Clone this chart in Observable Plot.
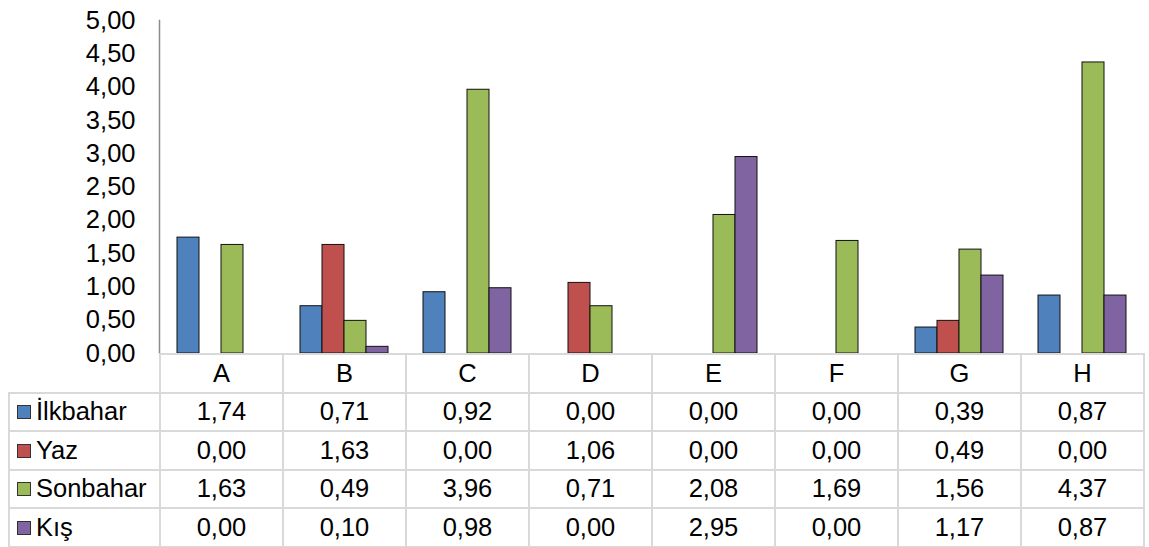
<!DOCTYPE html>
<html>
<head>
<meta charset="utf-8">
<script src="https://cdn.jsdelivr.net/npm/d3@7"></script>
<script src="https://cdn.jsdelivr.net/npm/@observablehq/plot@0.6"></script>
<style>
  html, body { margin: 0; padding: 0; background: #fff; }
  #wrap { position: relative; width: 1149px; height: 547px; overflow: hidden;
          font-family: "Liberation Sans", Arial, sans-serif; }
  #chart svg { display: block; }
  table.dt { position: absolute; left: 8px; top: 353px; width: 1135px;
             border-collapse: collapse; table-layout: fixed;
             font-family: "Liberation Sans", Arial, sans-serif; font-size: 25.5px; color: #000; }
  table.dt td { border: 2px solid #d9d9d9; height: 36.5px; padding: 0; text-align: center;
                line-height: 1; white-space: nowrap; }
  table.dt td.corner { border: none; }
  table.dt td.name { text-align: left; padding-left: 7px; }
  .sw { display: inline-block; width: 12px; height: 12px; border: 1px solid #333;
        margin-right: 5px; vertical-align: 1px; }
</style>
</head>
<body>
<div id="wrap">
  <div id="chart"></div>
  <table class="dt" id="tbl"></table>
</div>
<script>
// Categories, seasons and the values of each season per category
const categories = ["A", "B", "C", "D", "E", "F", "G", "H"];
const seasons = ["İlkbahar", "Yaz", "Sonbahar", "Kış"];
const ilkbahar = [1.74, 0.71, 0.92, 0.00, 0.00, 0.00, 0.39, 0.87];
const yaz      = [0.00, 1.63, 0.00, 1.06, 0.00, 0.00, 0.49, 0.00];
const sonbahar = [1.63, 0.49, 3.96, 0.71, 2.08, 1.69, 1.56, 4.37];
const kis      = [0.00, 0.10, 0.98, 0.00, 2.95, 0.00, 1.17, 0.87];
const seasonColors = ["#4F81BD", "#C0504D", "#9BBB59", "#8064A2"];
const yTicks = [0, 0.5, 1, 1.5, 2, 2.5, 3, 3.5, 4, 4.5, 5];

const seriesValues = [ilkbahar, yaz, sonbahar, kis];
const fmt = v => v.toFixed(2).replace(".", ",");

// Long-format rows for the grouped bars
const rows = [];
seasons.forEach((s, si) => {
  categories.forEach((c, ci) => {
    rows.push({category: c, season: s, value: seriesValues[si][ci]});
  });
});

const chart = Plot.plot({
  width: 1149,
  height: 380,
  marginLeft: 159,
  marginRight: 6,
  marginTop: 20,
  marginBottom: 27,
  style: {fontFamily: "'Liberation Sans', Arial, sans-serif", fontSize: "25.5px", color: "#000", background: "#fff", overflow: "visible"},
  fx: {domain: categories, padding: 0, axis: null, label: null},
  x: {domain: seasons, paddingInner: 0, paddingOuter: 0.733, axis: null},
  y: {domain: [0, 5], ticks: yTicks, tickFormat: fmt, tickSize: 0, tickPadding: 24, label: null},
  color: {domain: seasons, range: seasonColors},
  marks: [
    Plot.barY(rows, {
      filter: d => d.value > 0,
      fx: "category", x: "season", y: "value",
      fill: "season", stroke: "#111", strokeWidth: 1
    }),
    Plot.frame({anchor: "left", stroke: "#8c8c8c", strokeWidth: 1.5, facet: "super"})
  ]
});
document.getElementById("chart").appendChild(chart);

// Data table beneath the plot: category header, then one row per season
const tbl = document.getElementById("tbl");
const colgroup = document.createElement("colgroup");
[151, ...categories.map(() => 123)].forEach(w => {
  const col = document.createElement("col");
  col.style.width = w + "px";
  colgroup.appendChild(col);
});
tbl.appendChild(colgroup);

const head = document.createElement("tr");
const corner = document.createElement("td");
corner.className = "corner";
head.appendChild(corner);
categories.forEach(c => {
  const td = document.createElement("td");
  td.textContent = c;
  head.appendChild(td);
});
tbl.appendChild(head);

seasons.forEach((s, si) => {
  const tr = document.createElement("tr");
  const name = document.createElement("td");
  name.className = "name";
  const sw = document.createElement("span");
  sw.className = "sw";
  sw.style.background = seasonColors[si];
  name.appendChild(sw);
  name.appendChild(document.createTextNode(s));
  tr.appendChild(name);
  seriesValues[si].forEach(v => {
    const td = document.createElement("td");
    td.textContent = fmt(v);
    tr.appendChild(td);
  });
  tbl.appendChild(tr);
});
</script>
</body>
</html>
